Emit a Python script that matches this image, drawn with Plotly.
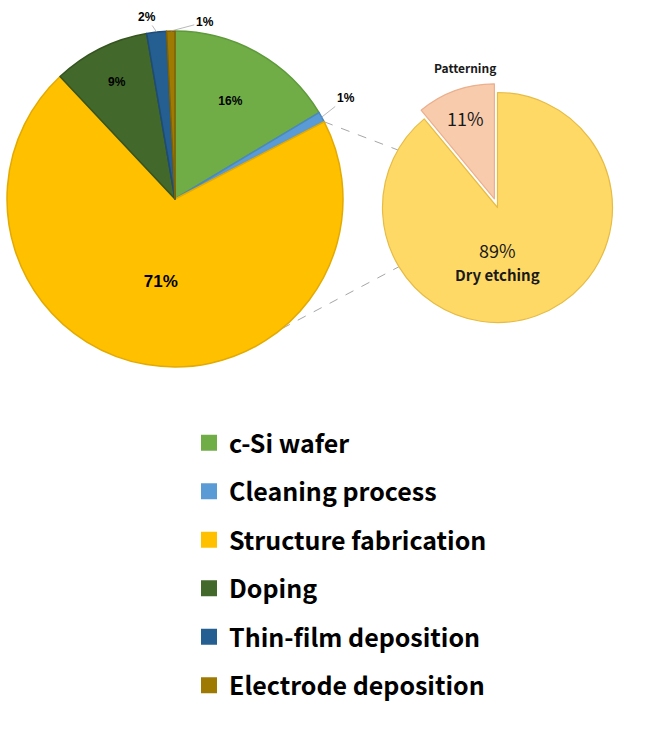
import math
import plotly.graph_objects as go

W, H = 654, 739

# ---- data ----
categories = ["c-Si wafer", "Cleaning process", "Structure fabrication",
              "Doping", "Thin-film deposition", "Electrode deposition"]
shares = [16.4, 1.0, 70.6, 9.3, 1.9, 0.8]
colors = ["#70AD47", "#5B9BD5", "#FFC000", "#43682B", "#255E91", "#9E7A03"]
edge_colors = ["#5E9A3A", "#4A88C2", "#E3AA00", "#35541F", "#1D4C78", "#7F6202"]

sub_labels = ["Dry etching", "Patterning"]
sub_shares = [89, 11]
sub_colors = ["#FFD966", "#F8CBAD"]
sub_edges = ["#E6BC45", "#EBB08D"]


def px(x):
    return x / W


def py(y):
    return 1 - y / H


# geometry (pixels)
main_c, main_r = (175, 199), 168
sub_c, sub_r = (497.5, 207.5), 115
sub_pull = 0.08


def on_circle(c, r, ang_deg):
    a = math.radians(ang_deg)
    return c[0] + r * math.sin(a), c[1] - r * math.cos(a)


total = sum(shares)
outside_idx = [1, 4, 5]
positions = ["none" if i in outside_idx else "inside" for i in range(len(shares))]

fig = go.Figure()

fig.add_trace(go.Pie(
    labels=categories, values=shares, sort=False, direction="clockwise", rotation=0,
    marker=dict(colors=colors, line=dict(color=edge_colors, width=1.5)),
    texttemplate="%{percent:.0%}",
    textposition=positions,
    insidetextorientation="horizontal",
    textfont=dict(family="Liberation Sans", size=[12, 12, 17, 12, 12, 12], color="black", weight="bold"),
    domain=dict(x=[px(main_c[0] - main_r), px(main_c[0] + main_r)],
                y=[py(main_c[1] + main_r), py(main_c[1] - main_r)]),
    showlegend=False, hoverinfo="none",
))

half = sub_r * (1 + sub_pull)
fig.add_trace(go.Pie(
    labels=sub_labels, values=sub_shares, sort=False, direction="clockwise", rotation=0,
    pull=[0, sub_pull],
    marker=dict(colors=sub_colors, line=dict(color=sub_edges, width=1.2)),
    texttemplate=["", "%{percent:.0%}"],
    textposition=["none", "inside"], insidetextorientation="horizontal",
    textfont=dict(family="Noto Sans CJK KR", size=18, color="#1a1a1a"),
    domain=dict(x=[px(sub_c[0] - half), px(sub_c[0] + half)],
                y=[py(sub_c[1] + half), py(sub_c[1] - half)]),
    showlegend=False, hoverinfo="none",
))

# legend via marker-only traces (one group each for spacing)
for i, (c, col) in enumerate(zip(categories, colors)):
    fig.add_trace(go.Scatter(
        x=[None], y=[None], mode="markers", name=c, legendgroup=str(i),
        marker=dict(symbol="square", size=16, color=col, line=dict(width=0)),
        showlegend=True, hoverinfo="none",
    ))

# connector lines between the pies
start_frac = (shares[0] + shares[1]) / total
p1 = on_circle(main_c, main_r, start_frac * 360)
p2 = on_circle(main_c, main_r, 140.5)
q1 = on_circle(sub_c, sub_r, 300)
q2 = on_circle(sub_c, sub_r, 239)
shapes = []
for a, b in [(p1, q1), (p2, q2)]:
    shapes.append(dict(type="line", xref="paper", yref="paper",
                       x0=px(a[0]), y0=py(a[1]), x1=px(b[0]), y1=py(b[1]),
                       line=dict(color="#A6A6A6", width=1, dash="dash"), layer="below"))

annotations = []
# outside labels with leader lines for the thin slices
offsets = {1: (24, -19), 4: (-10, -15), 5: (34, -9)}
cum = 0.0
for i, v in enumerate(shares):
    mid = (cum + v / 2) / total * 360
    cum += v
    if i in offsets:
        pt = on_circle(main_c, main_r, mid)
        annotations.append(dict(
            text="<b>%d%%</b>" % round(v / total * 100), x=px(pt[0]), y=py(pt[1]),
            xref="paper", yref="paper", showarrow=True, arrowhead=0, arrowwidth=0.8,
            arrowcolor="#A6A6A6", ax=offsets[i][0], ay=offsets[i][1], standoff=0,
            font=dict(family="Liberation Sans", size=12, color="black")))

# sub-pie labels
annotations.append(dict(text="<b>Patterning</b>", x=px(465), y=py(68), xref="paper", yref="paper",
                        xanchor="center", yanchor="middle", showarrow=False,
                        font=dict(family="Noto Sans CJK KR", size=12, color="#1a1a1a")))
annotations.append(dict(text="%d%%<br><span style='font-size:15px'><b>%s</b></span>"
                        % (sub_shares[0], sub_labels[0]),
                        x=px(497), y=py(261), xref="paper", yref="paper",
                        xanchor="center", yanchor="middle", showarrow=False,
                        font=dict(family="Noto Sans CJK KR", size=18, color="#1a1a1a")))

fig.update_layout(
    width=W, height=H, margin=dict(l=0, r=0, t=0, b=0),
    paper_bgcolor="white", plot_bgcolor="white",
    xaxis=dict(visible=False), yaxis=dict(visible=False),
    shapes=shapes, annotations=annotations,
    legend=dict(x=px(189), y=py(420), xanchor="left", yanchor="top",
                tracegroupgap=13, bgcolor="rgba(0,0,0,0)",
                font=dict(family="Noto Sans CJK KR", size=25, color="black", weight="bold")),
)

fig.write_html("out.html")
